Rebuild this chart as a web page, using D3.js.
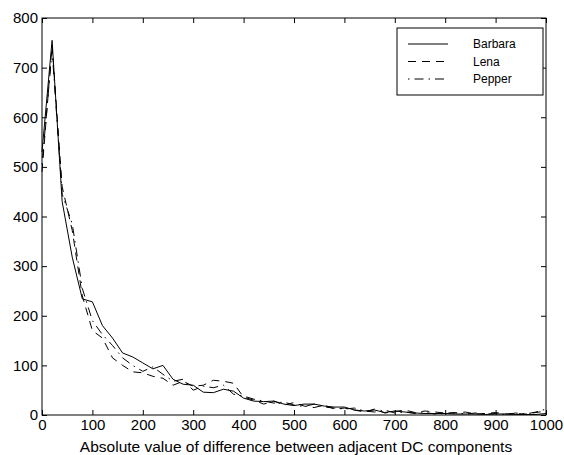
<!DOCTYPE html>
<html>
<head>
<meta charset="utf-8">
<script src="https://cdn.jsdelivr.net/npm/d3@7"></script>
<style>
  body { margin: 0; background: #fff; }
  svg { display: block; font-family: "Liberation Sans", Arial, sans-serif; }
</style>
</head>
<body>
<svg id="chart" width="564" height="455"></svg>
<script>
// bins of the absolute difference, every 20
var xs = d3.range(0, 1001, 20);

var barbara = [530, 755, 430, 318, 234, 228, 180, 155, 125, 117, 105, 93, 100, 72, 62, 60, 46, 45, 52, 48,
  34, 28, 27, 28, 22, 19, 22, 22, 18, 16, 16, 10, 8, 10, 5, 8, 6, 4, 3, 3,
  3, 2, 2, 2, 1, 2, 2, 1, 1, 1, 3];
var lena = [490, 745, 460, 372, 240, 170, 155, 115, 100, 87, 85, 78, 74, 60, 68, 58, 60, 70, 68, 64,
  36, 30, 22, 28, 20, 25, 18, 15, 20, 12, 14, 10, 6, 12, 4, 7, 10, 5, 8, 6,
  4, 4, 6, 2, 3, 5, 2, 3, 2, 5, 8];
var pepper = [505, 735, 445, 385, 255, 190, 162, 140, 115, 100, 88, 97, 82, 68, 72, 50, 58, 55, 60, 42,
  38, 32, 28, 24, 26, 20, 17, 22, 16, 14, 12, 14, 8, 6, 10, 4, 6, 3, 5, 2,
  3, 5, 2, 4, 2, 3, 1, 4, 2, 6, 12];

var names = ["Barbara", "Lena", "Pepper"];
var dashes = [null, "8,6", "1.5,5,9,5"];
var xTicks = d3.range(0, 1001, 100);
var yTicks = d3.range(0, 801, 100);
var xTitle = "Absolute value of difference between adjacent DC components";

var pLeft = 42, pRight = 546, pTop = 18, pBottom = 415;
var svg = d3.select("#chart");

var x = d3.scaleLinear().domain([0, 1000]).range([pLeft, pRight]);
var y = d3.scaleLinear().domain([0, 800]).range([pBottom, pTop]);

// box
svg.append("rect")
  .attr("x", pLeft).attr("y", pTop)
  .attr("width", pRight - pLeft).attr("height", pBottom - pTop)
  .attr("fill", "none").attr("stroke", "#000");

function style(g) {
  g.select(".domain").remove();
  g.selectAll("line").attr("stroke", "#000");
  g.selectAll("text").attr("font-size", 15).attr("fill", "#000");
}

svg.append("g").attr("transform", `translate(0,${pBottom})`)
  .call(d3.axisBottom(x).tickValues(xTicks).tickSize(-5).tickPadding(4).tickFormat(d3.format("d")))
  .call(style);
svg.append("g").attr("transform", `translate(0,${pTop})`)
  .call(d3.axisTop(x).tickValues(xTicks).tickSize(-5).tickFormat(""))
  .call(style);
svg.append("g").attr("transform", `translate(${pLeft},0)`)
  .call(d3.axisLeft(y).tickValues(yTicks).tickSize(-5).tickPadding(4).tickFormat(d3.format("d")))
  .call(style);
svg.append("g").attr("transform", `translate(${pRight},0)`)
  .call(d3.axisRight(y).tickValues(yTicks).tickSize(-5).tickFormat(""))
  .call(style);

svg.append("text")
  .attr("x", 296).attr("y", 452)
  .attr("text-anchor", "middle").attr("font-size", 15.5)
  .text(xTitle);

var line = d3.line().x((d, i) => x(xs[i])).y(d => y(d));
[barbara, lena, pepper].forEach((s, i) => {
  svg.append("path")
    .datum(s)
    .attr("d", line)
    .attr("fill", "none")
    .attr("stroke", "#000")
    .attr("stroke-width", 1)
    .attr("stroke-dasharray", dashes[i]);
});

// legend
var lg = svg.append("g").attr("transform", "translate(397,28)");
lg.append("rect").attr("width", 146).attr("height", 67)
  .attr("fill", "#fff").attr("stroke", "#000");
names.forEach((n, i) => {
  var yy = 16 + i * 17.5;
  lg.append("line").attr("x1", 11).attr("x2", 51).attr("y1", yy).attr("y2", yy)
    .attr("stroke", "#000").attr("stroke-dasharray", dashes[i]);
  lg.append("text").attr("x", 76).attr("y", yy + 4).attr("font-size", 12).text(n);
});
</script>
</body>
</html>
